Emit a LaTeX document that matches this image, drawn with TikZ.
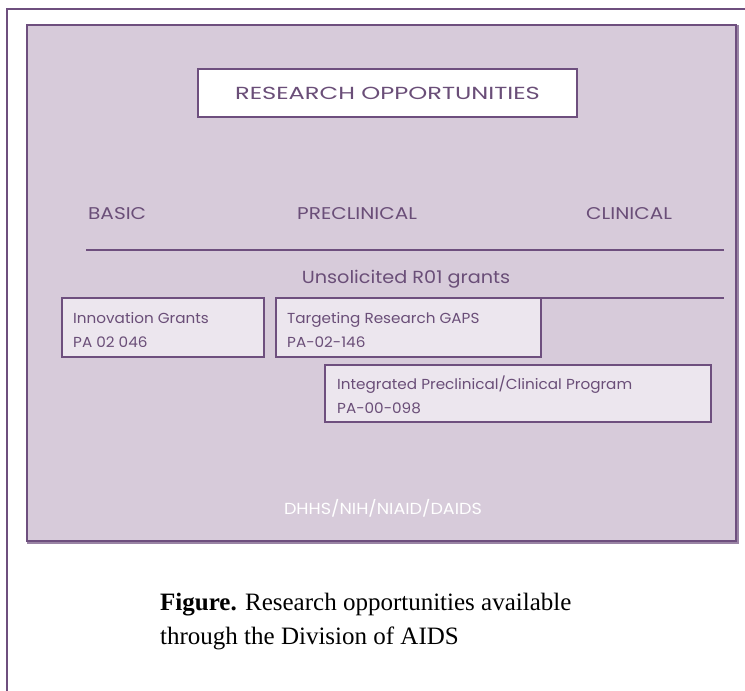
\documentclass[tikz,border=0pt]{standalone}
\usepackage{fontspec}
\setmainfont{Liberation Serif}
\newfontfamily\titlefont[FakeStretch=1.38]{Poppins}
\newfontfamily\colfont[FakeStretch=1.18]{Poppins}
\newfontfamily\unsolfont[FakeStretch=1.1]{Poppins}
\newfontfamily\smallfont[FakeStretch=1.05]{Poppins}
\newfontfamily\srcfont[FakeStretch=1.1]{Poppins}
\definecolor{frame}{HTML}{6E4F7E}
\definecolor{panel}{HTML}{D7CBDA}
\definecolor{boxfill}{HTML}{ECE6EE}
\definecolor{ink}{HTML}{6A4E78}
\begin{document}
\begin{tikzpicture}[x=1pt,y=-1pt,
  lbl/.style={font=\colfont\fontsize{17}{19}\selectfont, text=ink, inner sep=0pt, anchor=base west},
  small/.style={font=\smallfont\fontsize{14.5}{24}\selectfont, text=ink, inner sep=0pt, align=left, anchor=base west},
  grantbox/.style={draw=frame, line width=1.6pt, fill=boxfill},
  rule/.style={draw=frame, line width=2pt}]
\useasboundingbox (0,0) rectangle (745,691);
\fill[white] (0,0) rectangle (745,691);
% outer frame
\coordinate (ftop) at (745,9);
\coordinate (fcorner) at (7,9);
\coordinate (fbot) at (7,691);
\draw[frame, line width=1.5pt] (ftop) -- (fcorner) -- (fbot);
% panel
\draw[frame!70, line width=3pt] (28,26) rectangle (737,542);
\draw[fill=panel, draw=frame, line width=1.6pt] (27,25) rectangle (736,541);
% title box
\node[draw=frame, line width=1.6pt, fill=white, minimum width=379pt, minimum height=48pt, inner sep=0pt,
  font=\titlefont\fontsize{17.5}{19}\selectfont, text=ink] (title) at (387.5,93) {RESEARCH OPPORTUNITIES};
% columns
\node[lbl] (basic) at (88,219) {BASIC};
\node[lbl] (precl) at (297,219) {PRECLINICAL};
\node[lbl] (clin) at (586,219) {CLINICAL};
% rule 1
\coordinate (r1a) at (86,250);
\coordinate (r1b) at (724,250);
\draw[rule] (r1a) -- (r1b);
\node[font=\unsolfont\fontsize{17.5}{20}\selectfont, text=ink, inner sep=0pt, anchor=base] (unsol) at (406,283) {Unsolicited R01 grants};
% rule 2
\coordinate (r2a) at (276,298);
\coordinate (r2b) at (724,298);
\draw[rule] (r2a) -- (r2b);
% grant boxes
\draw[grantbox] (62,298) rectangle (264,357);
\node[small] (innov) at (73,347) {Innovation Grants\\PA 02 046};
\draw[grantbox] (276,298) rectangle (541,357);
\node[small] (targ) at (287,347) {Targeting Research GAPS\\PA-02-146};
\draw[grantbox] (325,365) rectangle (711,422);
\node[small] (integ) at (337,413) {Integrated Preclinical/Clinical Program\\PA-00-098};
% source
\node[font=\srcfont\fontsize{16}{18}\selectfont, text=white, inner sep=0pt] (src) at (383,508) {DHHS/NIH/NIAID/DAIDS};
% caption
\node[anchor=base west, align=left, inner sep=0pt, font=\fontsize{25}{34}\selectfont] (cap) at (160,644)
  {\textbf{Figure.} Research opportunities available\\through the Division of AIDS};
\end{tikzpicture}
\end{document}
